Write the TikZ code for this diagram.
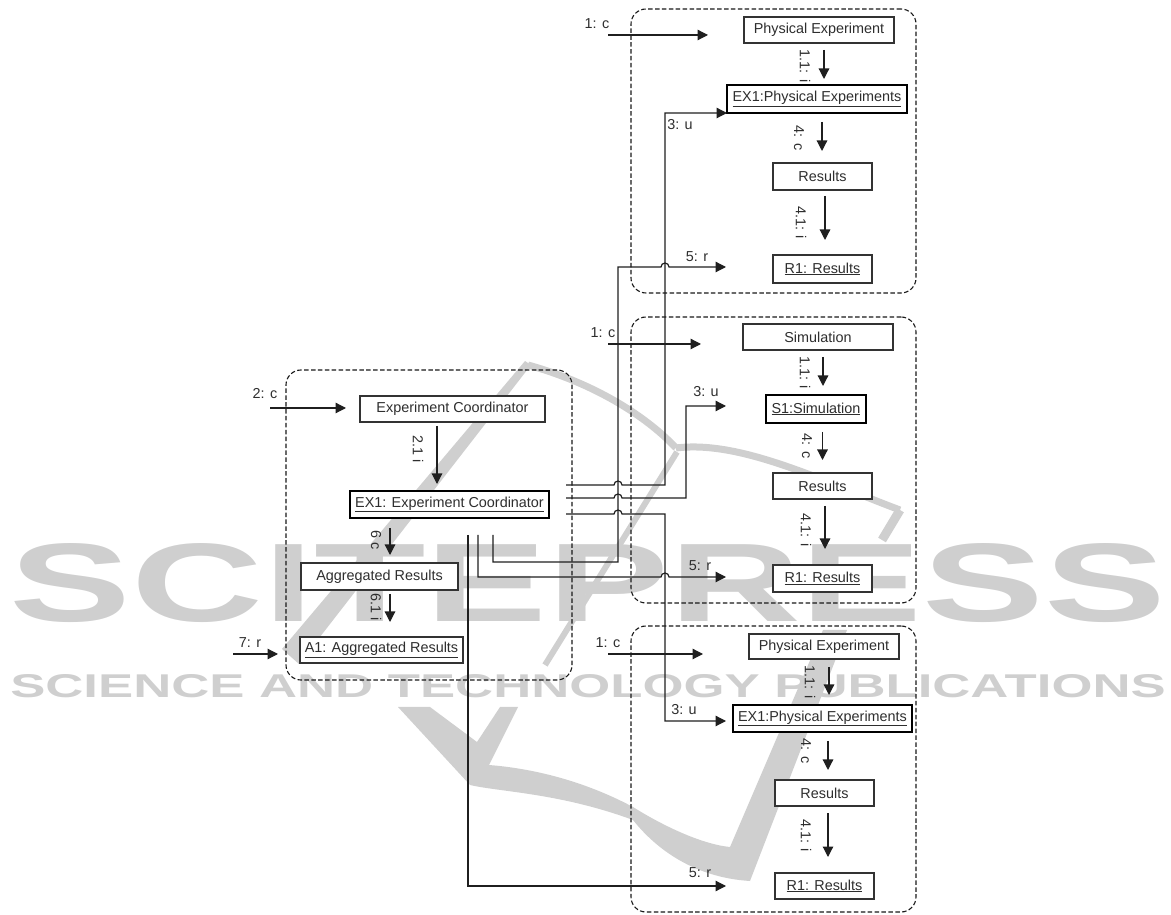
\documentclass[tikz,border=0pt]{standalone}
\usepackage{fontspec}
\setmainfont{Liberation Sans}
\usepackage{xcolor}
\usepackage{tikz}
\usetikzlibrary{arrows.meta,positioning,calc}

\newcommand{\hop}{arc[start angle=180,end angle=0,radius=4pt]}

\begin{document}
\begin{tikzpicture}[
  x=1pt, y=1pt,
  every node/.style={font=\fontsize{14.4}{16}\selectfont, text=black!82},
  box/.style={draw=black!80, line width=1.2pt, fill=white, align=center, inner sep=0pt, outer sep=0pt,
              minimum height=26pt},
  instbox/.style={box, draw=black, line width=2.2pt},
  resbox/.style={box, line width=1.4pt},
  panel/.style={draw=black!90, line width=1.1pt, dash pattern=on 4.5pt off 2.4pt, rounded corners=15pt,
                inner sep=0pt, outer sep=0pt},
  arrow/.style={-{Triangle[length=10.5pt,width=10.5pt]}, line width=1.2pt, draw=black!88},
  wire/.style={arrow},
  lab/.style={inner sep=0pt},
  vlab/.style={inner sep=0pt, rotate=-90},
  wmark/.style={inner sep=0pt, text=black!19},
  wmstroke/.style={draw=black!19}
]
% watermark
\node[wmark] (wmbig) at (588,331) {\resizebox{1155pt}{78pt}{\bfseries SCITEPRESS}};
\node[wmark] (wmsmall) at (588,227.5) {\resizebox{1155pt}{23pt}{\bfseries SCIENCE AND TECHNOLOGY PUBLICATIONS}};
\fill[black!19] (525,553) -- (282,265) -- (299,250) -- (531,549) -- cycle;
\draw[wmstroke, line width=7pt] (528,549) .. controls (600,529) and (650,494) .. (676,466);
\draw[wmstroke, line width=7pt] (676,466) .. controls (740,474) and (820,434) .. (900,404);
\draw[wmstroke, line width=9pt] (900,404) -- (882,374);
\draw[wmstroke, line width=6pt] (677,462) -- (545,249);
\fill[black!19] (398,207) -- (470,129) .. controls (500,122) and (560,121) .. (633,94)
  .. controls (660,60) and (700,36) .. (750,33) -- (847,284) -- (823,284)
  -- (730,67) .. controls (700,70) and (660,90) .. (633,107)
  .. controls (590,130) and (540,145) .. (489,149) -- (518,207) -- (500,207)
  -- (477,172) -- (430,207) -- cycle;

% panels
\node[panel, minimum width=285pt, minimum height=284pt] (pantop) at (773.5,763) {};
\node[panel, minimum width=285pt, minimum height=286pt] (panmid) at (773.5,454) {};
\node[panel, minimum width=285pt, minimum height=286pt] (panbot) at (773.5,145) {};
\node[panel, minimum width=286pt, minimum height=310pt] (panleft) at (429,389) {};

% top panel
\node[box, minimum width=150pt] (phys1) at (819,884) {Physical Experiment};
\node[instbox, minimum width=180pt, minimum height=28pt, below=42pt of phys1, xshift=-2pt] (ex1) {\underline{EX1:Physical Experiments}};
\node[box, minimum width=99pt, minimum height=27pt, below=50pt of ex1, xshift=5.5pt] (res1) {Results};
\node[resbox, minimum width=99pt, minimum height=28pt, below=65pt of res1] (r1) {\underline{R1: Results}};

% middle panel
\node[box, minimum width=150pt] (sim) at (818,577) {Simulation};
\node[instbox, minimum width=100pt, minimum height=28pt, below=45pt of sim, xshift=-2pt] (s1) {\underline{S1:Simulation}};
\node[box, minimum width=99pt, below=50pt of s1, xshift=6.5pt] (res2) {Results};
\node[resbox, minimum width=99pt, minimum height=27pt, below=66pt of res2] (r2) {\underline{R1: Results}};

% bottom panel
\node[box, minimum width=150pt, minimum height=25pt] (phys3) at (824,267.5) {Physical Experiment};
\node[instbox, minimum width=179pt, minimum height=27pt, below=46pt of phys3, xshift=-1.5pt] (ex3) {\underline{EX1:Physical Experiments}};
\node[box, minimum width=99pt, below=48pt of ex3, xshift=2pt] (res3) {Results};
\node[resbox, minimum width=99pt, below=67pt of res3] (r3) {\underline{R1: Results}};

% left panel
\node[box, minimum width=185pt] (coord) at (452.5,505) {Experiment Coordinator};
\node[instbox, minimum width=199pt, minimum height=27pt, below=69pt of coord, xshift=-3pt] (ex0) {\underline{EX1: Experiment Coordinator}};
\node[box, minimum width=157pt, minimum height=27pt, below=45pt of ex0, xshift=-70pt] (agg) {Aggregated Results};
\node[resbox, minimum width=163pt, below=47pt of agg, xshift=2pt] (a1) {\underline{A1: Aggregated Results}};

% arrows inside the panels
\draw[arrow, shorten <=7pt, shorten >=6pt] ([xshift=5pt]phys1.south) -- ([xshift=5pt]phys1.south |- ex1.north)
  node[xshift=-19pt, yshift=-2pt, vlab, midway] (t11) {1.1: i};
\draw[arrow, shorten <=9pt, shorten >=12pt] ([xshift=5pt]ex1.south) -- ([xshift=5pt]ex1.south |- res1.north)
  node[xshift=-23pt, vlab, midway] (t4) {4: c};
\draw[arrow, shorten <=6pt, shorten >=15pt] ([xshift=2.5pt]res1.south) -- ([xshift=2.5pt]res1.south |- r1.north)
  node[xshift=-24pt, vlab, midway] (t41) {4.1: i};

\draw[arrow, shorten <=7pt, shorten >=9pt] ([xshift=5pt]sim.south) -- ([xshift=5pt]sim.south |- s1.north)
  node[xshift=-18pt, vlab, midway] (m11) {1.1: i};
\draw[arrow, shorten <=9pt, shorten >=13pt] ([xshift=6.5pt]s1.south) -- ([xshift=6.5pt]s1.south |- res2.north)
  node[xshift=-15.5pt, yshift=2pt, vlab, midway] (m4) {4: c};
\draw[arrow, shorten <=7pt, shorten >=16pt] ([xshift=2.5pt]res2.south) -- ([xshift=2.5pt]res2.south |- r2.north)
  node[xshift=-19pt, yshift=2pt, vlab, midway] (m41) {4.1: i};

\draw[arrow, shorten <=8pt, shorten >=10pt] ([xshift=5pt]phys3.south) -- ([xshift=5pt]phys3.south |- ex3.north)
  node[xshift=-19pt, vlab, midway] (b11) {1.1: i};
\draw[arrow, shorten <=9pt, shorten >=10pt] ([xshift=5.5pt]ex3.south) -- ([xshift=5.5pt]ex3.south |- res3.north)
  node[xshift=-22pt, yshift=5pt, vlab, midway] (b4) {4: c};
\draw[arrow, shorten <=7pt, shorten >=16pt] ([xshift=3.5pt]res3.south) -- ([xshift=3.5pt]res3.south |- r3.north)
  node[xshift=-22pt, yshift=4pt, vlab, midway] (b41) {4.1: i};

\draw[arrow, shorten <=4pt, shorten >=7pt] ([xshift=-15.5pt]coord.south) -- ([xshift=-15.5pt]coord.south |- ex0.north)
  node[xshift=-19pt, yshift=7pt, vlab, midway] (l21) {2.1 i};
\draw[arrow, shorten <=10pt, shorten >=8pt] ([xshift=10.5pt]agg.north |- ex0.south) -- ([xshift=10.5pt]agg.north)
  node[xshift=-14pt, vlab, midway] (l6) {6 c};
\draw[arrow, shorten <=4pt, shorten >=15pt] ([xshift=10.5pt]agg.south) -- ([xshift=10.5pt]agg.south |- a1.north)
  node[xshift=-14pt, yshift=6.5pt, vlab, midway] (l61) {6.1 i};

% free arrows coming in from outside
\coordinate (ca) at (608,879);
\coordinate (cb) at (708,879);
\coordinate (cc) at (608,570);
\coordinate (cd) at (701,570);
\coordinate (ce) at (608,260);
\coordinate (cf) at (703,260);
\coordinate (cg) at (270,506);
\coordinate (ch) at (346,506);
\coordinate (ci) at (233,260);
\coordinate (cj) at (278,260);
\draw[arrow] (ca) -- (cb);
\draw[arrow] (cc) -- (cd);
\draw[arrow] (ce) -- (cf);
\draw[arrow] (cg) -- (ch);
\draw[arrow] (ci) -- (cj);
\node[lab] (lc1) at (597,890) {1: c};
\node[lab] (lc2) at (603,581) {1: c};
\node[lab] (lc3) at (608,271) {1: c};
\node[lab] (lc4) at (265,520) {2: c};
\node[lab] (lc5) at (250,271) {7: r};

% wires leaving the coordinator
\coordinate (wa) at (566,429);
\coordinate (wb) at (566,416);
\coordinate (wc) at (566,400);
\coordinate (wd) at (493,379);
\coordinate (we) at (478,379);
\coordinate (wf) at (468,379);
\coordinate (ue) at (726,508);
\draw[wire] (wa) -- ++(48,0) \hop -- (665,429) |- (ex1.south west);
\draw[wire] (wb) -- ++(48,0) \hop -- (686,416) |- (ue);
\draw[wire, shorten >=7pt] (wc) -- ++(48,0) \hop -- (665,400) |- ([yshift=-2.5pt]ex3.west);
\draw[wire, shorten >=47pt] (wd) |- (618,352) -- (618,647) -- (661,647) \hop -- ([yshift=2pt]r1.west);
\draw[wire, shorten >=47pt] (we) |- (661,337) \hop -- ([yshift=1.5pt]r2.west);
\draw[wire, shorten >=49pt] (wf) |- (r3.west);
\node[lab] (lu1) at (680,789) {3: u};
\node[lab] (lu2) at (706,522) {3: u};
\node[lab] (lu3) at (684,204) {3: u};
\node[lab] (lr1) at (697,657) {5: r};
\node[lab] (lr2) at (700,348) {5: r};
\node[lab] (lr3) at (700,41) {5: r};

\useasboundingbox (0,0) rectangle (1171,914);
\end{tikzpicture}
\end{document}
